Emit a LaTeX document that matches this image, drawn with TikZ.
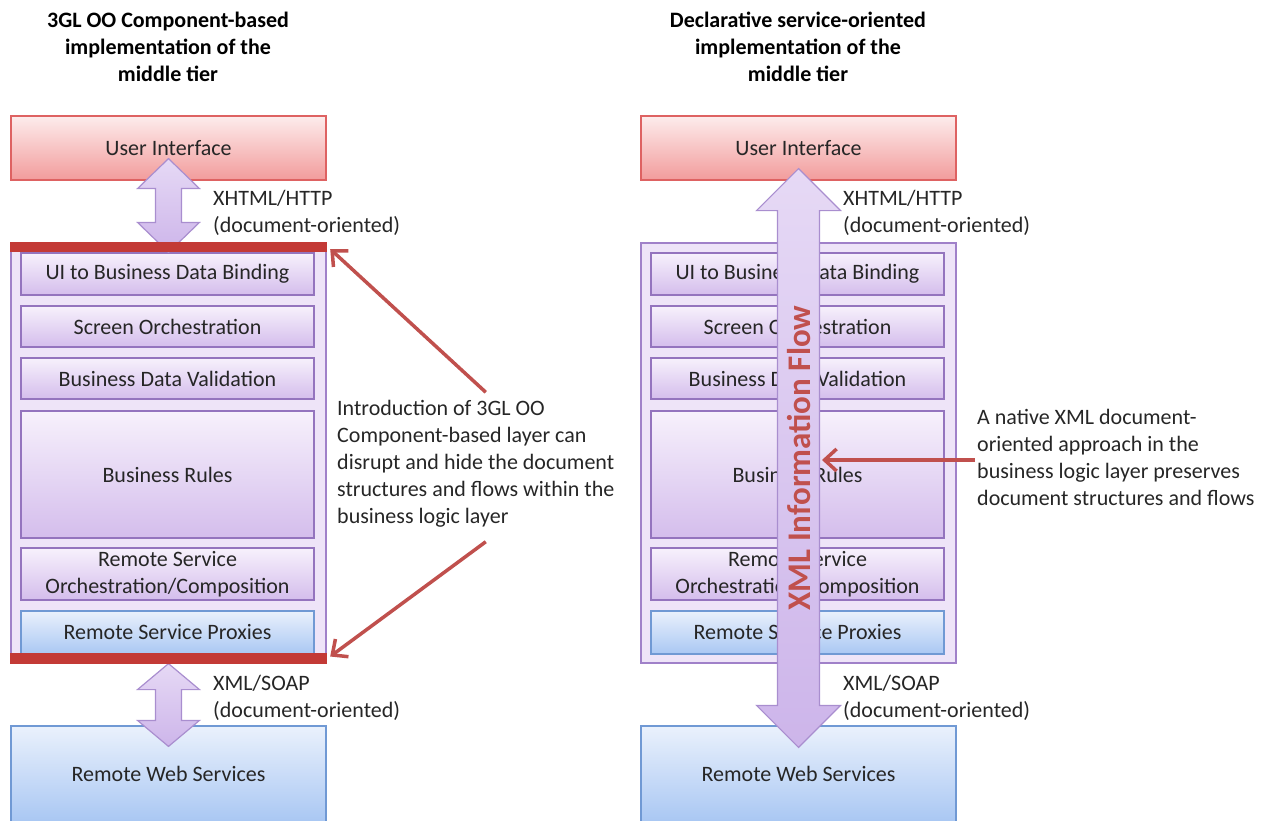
\documentclass[tikz,border=0pt]{standalone}
\usepackage{fontspec}
\setmainfont{Carlito}
\usetikzlibrary{calc,arrows.meta}

\definecolor{uiTop}{HTML}{FDECEC}
\definecolor{uiBot}{HTML}{F29C9C}
\definecolor{uiLine}{HTML}{DE6262}
\definecolor{tierFill}{HTML}{EEE4F8}
\definecolor{tierLine}{HTML}{A081C9}
\definecolor{layTop}{HTML}{F7F1FC}
\definecolor{layBot}{HTML}{D4BDEC}
\definecolor{layLine}{HTML}{9474BE}
\definecolor{svcTop}{HTML}{EAF1FC}
\definecolor{svcBot}{HTML}{A9C7F3}
\definecolor{svcLine}{HTML}{7099D4}
\definecolor{flowTop}{HTML}{E6D9F5}
\definecolor{flowBot}{HTML}{CDB5EA}
\definecolor{flowLine}{HTML}{A98ECF}
\definecolor{callout}{HTML}{C0504D}
\definecolor{barRed}{HTML}{C33A36}

\tikzset{
  every node/.style={font=\fontsize{22}{27}\selectfont, text=black!85, inner sep=0pt},
  title/.style={font=\fontsize{22}{27}\selectfont\bfseries, align=center, text=black},
  uibox/.style={draw=uiLine, line width=1.2pt, top color=uiTop, bottom color=uiBot, minimum width=315, minimum height=64},
  tier/.style={draw=tierLine, line width=1.2pt, fill=tierFill, minimum width=315, minimum height=420},
  layer/.style={draw=layLine, line width=1.2pt, top color=layTop, bottom color=layBot, minimum width=293, align=center},
  svc/.style={draw=svcLine, line width=1.2pt, top color=svcTop, bottom color=svcBot, minimum width=293, align=center},
  redbar/.style={fill=barRed, minimum width=317, minimum height=10},
  flowarrow/.style={draw=flowLine, line width=1.2pt, top color=flowTop, bottom color=flowBot},
  note/.style={align=left, anchor=west},
  pointer/.style={draw=callout, line width=3.5pt, -{Straight Barb[length=12pt,width=22pt,line width=3.5pt]}}
}

% fat two-headed arrow: top tip, bottom tip, shaft half width, head length, head half width
\newcommand{\fatarrow}[5]{%
  \path[flowarrow] (#1) -- ++(#5,#4) -- ++({#3-#5},0) -- ($(#2)+(#3,-#4)$) -- ++({#5-#3},0)
    -- (#2) -- ++(-#5,-#4) -- ++({#5-#3},0) -- ($(#1)+(-#3,#4)$) -- ++({#3-#5},0) -- cycle;}

\begin{document}
\begin{tikzpicture}[x=1pt, y=-1pt]
  \useasboundingbox (0,0) rectangle (1268,821);

  \node[title] (titleL) at (168,47) {3GL OO Component-based\\implementation of the\\middle tier};
  \node[title] (titleR) at (798,47) {Declarative service-oriented\\implementation of the\\middle tier};

  % component-based stack
  \node[uibox] (uiL) at (168.5,148) {User Interface};
  \node[tier] (midL) at (168.5,453) {};
  \node[layer, minimum height=42] (bindL) at (167.5,274) {UI to Business Data Binding};
  \node[layer, minimum height=41] (screenL) at (167.5,326.5) {Screen Orchestration};
  \node[layer, minimum height=41] (validL) at (167.5,378.5) {Business Data Validation};
  \node[layer, minimum height=127] (rulesL) at (167.5,474.5) {Business Rules};
  \node[layer, minimum height=52] (orchL) at (167.5,574) {Remote Service\\Orchestration/Composition};
  \node[svc, minimum height=43] (proxyL) at (167.5,632.5) {Remote Service Proxies};
  \node[svc, minimum width=315, minimum height=96] (wsL) at (168.5,774) {Remote Web Services};

  % declarative stack
  \node[uibox] (uiR) at (798.5,148) {User Interface};
  \node[tier] (midR) at (798.5,453) {};
  \node[layer, minimum height=42] (bindR) at (797.5,274) {UI to Business Data Binding};
  \node[layer, minimum height=41] (screenR) at (797.5,326.5) {Screen Orchestration};
  \node[layer, minimum height=41] (validR) at (797.5,378.5) {Business Data Validation};
  \node[layer, minimum height=127] (rulesR) at (797.5,474.5) {Business Rules};
  \node[layer, minimum height=52] (orchR) at (797.5,574) {Remote Service\\Orchestration/Composition};
  \node[svc, minimum height=43] (proxyR) at (797.5,632.5) {Remote Service Proxies};
  \node[svc, minimum width=315, minimum height=96] (wsR) at (798.5,774) {Remote Web Services};

  \coordinate (httpTopL) at ($(uiL.south)+(0,-22)$);
  \coordinate (httpBotL) at ($(midL.north)+(0,10)$);
  \coordinate (soapTopL) at (midL.south);
  \coordinate (soapBotL) at ($(wsL.north)+(0,21)$);
  \coordinate (flowTopR) at ($(uiR.south)+(0,-12)$);
  \coordinate (flowBotR) at ($(wsR.north)+(0,22)$);

  \fatarrow{httpTopL}{httpBotL}{13}{30}{31}
  \fatarrow{soapTopL}{soapBotL}{13}{26}{31}
  \fatarrow{flowTopR}{flowBotR}{21}{42}{42}
  \node[rotate=90, text=callout, font=\fontsize{33}{39}\selectfont\bfseries] (flow) at (799,458) {XML Information Flow};

  \node[redbar] (barT) at (168.5,247) {};
  \node[redbar, minimum height=11] (barB) at (168.5,658.5) {};

  \node[note] (httpL) at (213,213) {XHTML/HTTP\\(document-oriented)};
  \node[note] (soapL) at (213,697.5) {XML/SOAP\\(document-oriented)};
  \node[note] (httpR) at (843,213) {XHTML/HTTP\\(document-oriented)};
  \node[note] (soapR) at (843,697.5) {XML/SOAP\\(document-oriented)};

  \node[note] (noteL) at (337,464) {Introduction of 3GL OO\\Component-based layer can\\disrupt and hide the document\\structures and flows within the\\business logic layer};
  \node[note] (noteR) at (977,457.5) {A native XML document-\\oriented approach in the\\business logic layer preserves\\document structures and flows};

  \coordinate (flowEdge) at (822,460);
  \draw[pointer] ($(noteL.north)+(10,-8)$) -- ($(barT.east)+(3,2)$);
  \draw[pointer] ($(noteL.south)+(10,14)$) -- ($(barB.east)+(3,-2)$);
  \draw[pointer] ($(noteR.west)+(-2,2.5)$) -- (flowEdge);
\end{tikzpicture}
\end{document}
